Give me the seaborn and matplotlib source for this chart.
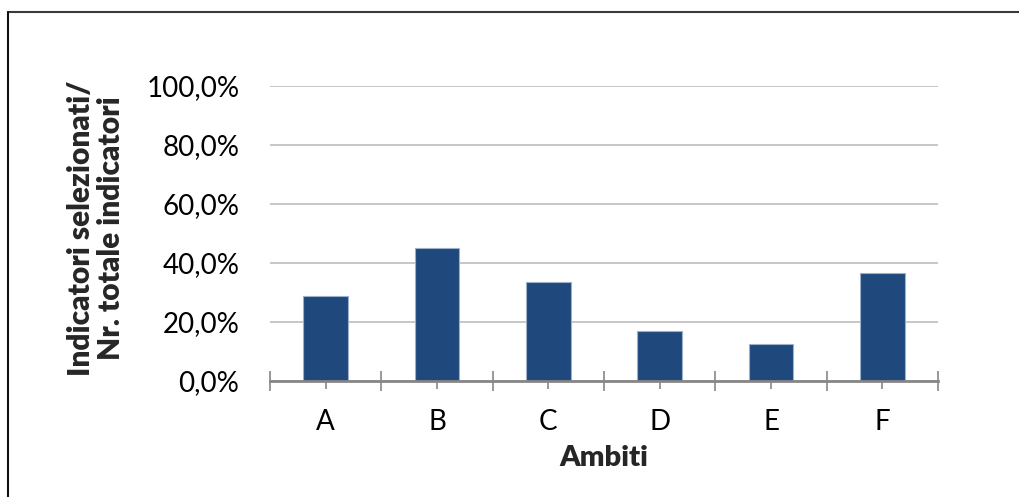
import matplotlib
matplotlib.use("Agg")
import matplotlib.pyplot as plt
from matplotlib.ticker import FuncFormatter, FixedLocator
import seaborn as sns
import pandas as pd

# Share of selected indicators over the total number of indicators, per area
ambiti = ["A", "B", "C", "D", "E", "F"]
quota = [0.286, 0.450, 0.333, 0.167, 0.125, 0.364]
y_ticks = [0.0, 0.2, 0.4, 0.6, 0.8, 1.0]

sns.set_theme(style="white")
plt.rcParams["font.family"] = ["Lato", "DejaVu Sans"]

df = pd.DataFrame({"Ambiti": ambiti, "Quota": quota})

fig = plt.figure(figsize=(10.19, 4.97), dpi=100)
ax = fig.add_axes([0.265, 0.234, 0.6555, 0.5936])

sns.barplot(data=df, x="Ambiti", y="Quota", ax=ax, color="#1F497D",
            saturation=1, width=0.4, edgecolor="#9DB0CB", linewidth=0.8,
            zorder=3)

ax.set_xlim(-0.5, len(ambiti) - 0.5)
ax.set_ylim(0, 1.0)
ax.set_yticks(y_ticks)
ax.yaxis.set_major_formatter(
    FuncFormatter(lambda v, _: f"{v * 100:.1f}%".replace(".", ",")))
ax.grid(axis="y", color="#BEBEBE", linewidth=1.2, zorder=0)
ax.grid(axis="x", visible=False)

for side in ("top", "right", "left"):
    ax.spines[side].set_visible(False)
ax.spines["bottom"].set_color("#868686")
ax.spines["bottom"].set_linewidth(2)
ax.spines["bottom"].set_zorder(4)

# Category labels at bar centres, separator ticks between categories
ax.tick_params(axis="y", length=0, pad=22, labelsize=20, labelcolor="black")
ax.tick_params(axis="x", which="major", direction="inout", length=11,
               width=1.2, color="#868686", pad=15, labelsize=20,
               labelcolor="black", bottom=True)
ax.xaxis.set_minor_locator(
    FixedLocator([i - 0.5 for i in range(len(ambiti) + 1)]))
ax.tick_params(axis="x", which="minor", direction="inout", length=15,
               width=1.2, color="#868686", bottom=True)

ax.set_xlabel("Ambiti", fontsize=21, fontweight="heavy", labelpad=7)
ax.set_ylabel("")
fig.text(0.094, 0.540, "Indicatori selezionati/\nNr. totale indicatori",
         rotation=90, ha="center", va="center", multialignment="center",
         fontsize=21.5, fontweight="heavy", linespacing=1.1)

# Chart-area frame (top and left edges)
fig.add_artist(plt.Line2D([8 / 1019, 1.0], [1 - 11.5 / 497, 1 - 11.5 / 497],
                          transform=fig.transFigure, color="#3a3a3a",
                          linewidth=1.5))
fig.add_artist(plt.Line2D([8 / 1019, 8 / 1019], [0.0, 1 - 11.5 / 497],
                          transform=fig.transFigure, color="#111111",
                          linewidth=1.5))

fig.savefig("out.png", dpi=100, facecolor="white")
